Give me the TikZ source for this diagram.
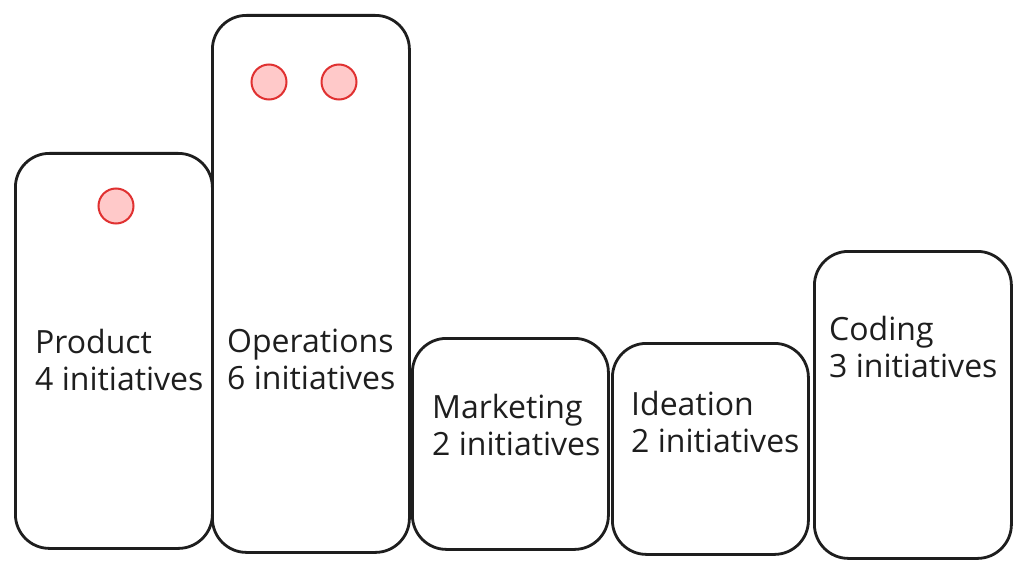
\documentclass[tikz,border=0pt]{standalone}
\usepackage{fontspec}
\setmainfont{Open Sans}
\definecolor{inkc}{HTML}{1E1E1E}
\definecolor{dotfill}{HTML}{FFC9C9}
\definecolor{dotline}{HTML}{E03131}
\begin{document}
\begin{tikzpicture}[x=1pt,y=-1pt,
  card/.style={draw=inkc,line width=2.8pt,rounded corners=34pt,fill=white,inner sep=0pt},
  dot/.style={circle,draw=dotline,fill=dotfill,line width=2pt,minimum size=35pt,inner sep=0pt},
  lbl/.style={anchor=base west,align=left,inner sep=0pt,font=\fontsize{32}{37}\selectfont,text=inkc}]
\useasboundingbox[fill=white] (0,0) rectangle (1024,572);
\node[card,minimum width=197pt,minimum height=395pt,anchor=north west] (product) at (14,152) {};
\node[card,minimum width=197pt,minimum height=537pt,anchor=north west] (operations) at (211,14) {};
\node[card,minimum width=196pt,minimum height=211pt,anchor=north west] (marketing) at (411,337) {};
\node[card,minimum width=196pt,minimum height=211pt,anchor=north west] (ideation) at (611,342) {};
\node[card,minimum width=197pt,minimum height=307pt,anchor=north west] (coding) at (813,250) {};
\node[dot] (d1) at (116,206) {};
\node[dot] (d2) at (269,82) {};
\node[dot] (d3) at (339,82) {};
\node[lbl] (tp) at (35,390) {Product\\4 initiatives};
\node[lbl] (to) at (227,389) {Operations\\6 initiatives};
\node[lbl] (tm) at (432,455) {Marketing\\2 initiatives};
\node[lbl] (ti) at (631,452) {Ideation\\2 initiatives};
\node[lbl] (tc) at (829,377) {Coding\\3 initiatives};
\end{tikzpicture}
\end{document}
